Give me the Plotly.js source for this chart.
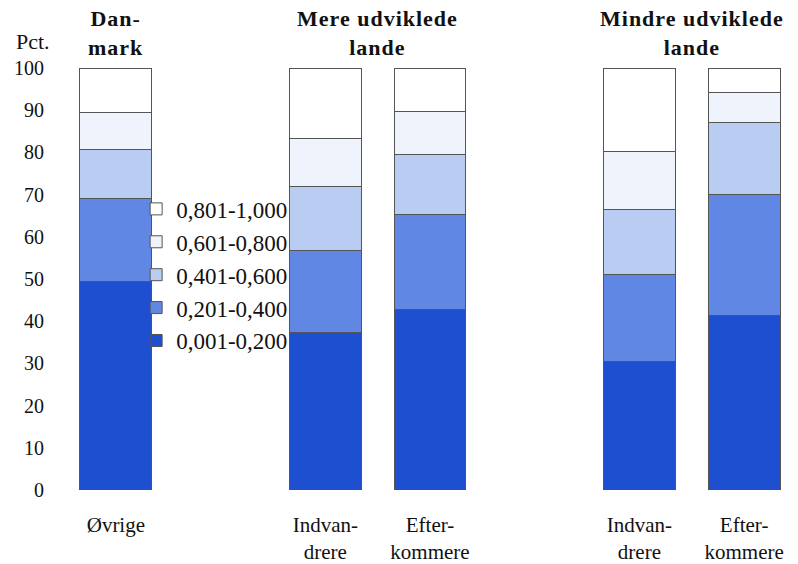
<!DOCTYPE html>
<html><head><meta charset="utf-8">
<script src="https://cdn.plot.ly/plotly-3.0.1.min.js"></script>
<style>body{margin:0;background:#fff}#c{width:798px;height:564px}</style>
</head><body><div id="c"></div>
<script>
const positions = [0, 2, 3, 5, 6];
const categoryLabels = ["Øvrige", "Indvan-<br>drere", "Efter-<br>kommere", "Indvan-<br>drere", "Efter-<br>kommere"];
const groupLabels = ["Dan-<br>mark", "Mere udviklede<br>lande", "Mindre udviklede<br>lande"];
const groupPositions = [0, 2.5, 5.5];
const seriesNames = ["0,001-0,200", "0,201-0,400", "0,401-0,600", "0,601-0,800", "0,801-1,000"];
const s1 = [49.5, 37.3, 42.8, 30.4, 41.3];
const s2 = [19.5, 19.4, 22.5, 20.6, 28.8];
const s3 = [11.8, 15.3, 14.1, 15.4, 16.9];
const s4 = [8.7, 11.2, 10.2, 13.7, 7.1];
const s5 = [10.5, 16.8, 10.4, 19.9, 5.9];
const colors = ["#1f4fd1", "#5f87e3", "#b9cdf3", "#eef3fc", "#ffffff"];

const FONT = '"Liberation Serif", "Times New Roman", "DejaVu Serif", serif';
const series = [s1, s2, s3, s4, s5];
const traces = series.map((s, i) => ({
  type: 'bar', x: positions, y: s, name: seriesNames[i],
  width: 0.686,
  marker: {color: colors[i], line: {color: '#555', width: 1}}
}));

const annotations = groupLabels.map((t, i) => ({
  x: groupPositions[i], y: 1, xref: 'x', yref: 'paper', yanchor: 'bottom', yshift: 6,
  text: '<span style="letter-spacing:1px"><b>' + t.replace('<br>', '</b></span><br><span style="letter-spacing:1px"><b>') + '</b></span>',
  showarrow: false,
  font: {family: FONT, size: 22, color: '#111'}
}));
annotations.push({x: 0, xref: 'paper', xanchor: 'right', xshift: 0, y: 1, yref: 'paper', yanchor: 'bottom', yshift: 12,
  text: 'Pct.', showarrow: false, font: {family: FONT, size: 22, color: '#111'}});

Plotly.newPlot('c', traces, {
  width: 798, height: 564,
  margin: {l: 52, r: 8, t: 68, b: 74},
  barmode: 'stack',
  paper_bgcolor: '#fff', plot_bgcolor: '#fff',
  font: {family: FONT, size: 20, color: '#111'},
  xaxis: {range: [-0.61, 6.438], tickvals: positions, ticktext: categoryLabels,
    tickfont: {family: FONT, size: 21},
    showgrid: false, zeroline: false, showline: false, ticks: '', ticklabelstandoff: 20},
  yaxis: {range: [0, 100], dtick: 10, showgrid: false, zeroline: false, showline: false, ticks: '',
    tickfont: {family: FONT, size: 20}, ticklabelstandoff: 7},
  legend: {x: 0.114, y: 0.717, xanchor: 'left', yanchor: 'top', traceorder: 'reversed',
    bgcolor: 'rgba(0,0,0,0)', font: {family: FONT, size: 23}, itemwidth: 30, tracegroupgap: 0},
  annotations: annotations,
  showlegend: true
}, {displayModeBar: false});
</script></body></html>
